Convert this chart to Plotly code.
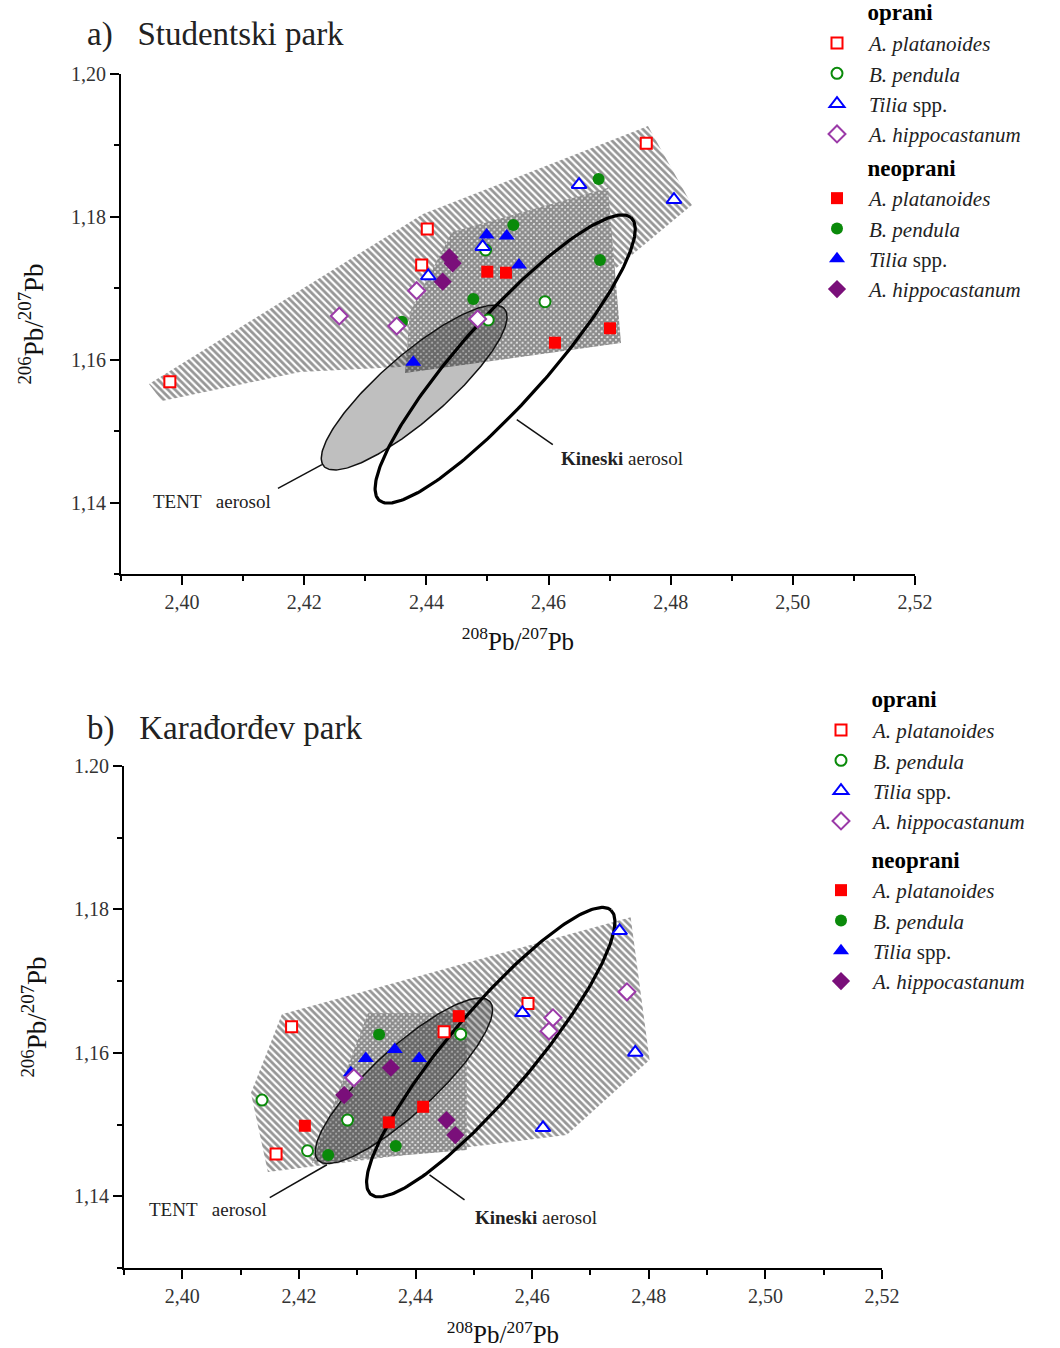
import numpy as np
import plotly.graph_objects as go

SERIF = "Liberation Serif, Times New Roman, serif"

# ---------------- a) Studentski park ----------------
# oprani (washed leaves)
stud_op_plat_x = [2.3980, 2.4760, 2.44015, 2.43923]
stud_op_plat_y = [1.1569, 1.1903, 1.17830, 1.17326]
stud_op_bet_x = [2.45942, 2.45013, 2.44970]
stud_op_bet_y = [1.16812, 1.16556, 1.17536]
stud_op_til_x = [2.4650, 2.48054, 2.44922, 2.44031]
stud_op_til_y = [1.1845, 1.1824, 1.17582, 1.17172]
stud_op_hip_x = [2.42574, 2.43514, 2.43841, 2.44840]
stud_op_hip_y = [1.16612, 1.16472, 1.16966, 1.16570]
# neoprani (unwashed leaves)
stud_ne_plat_x = [2.44997, 2.45303, 2.47006, 2.46105]
stud_ne_plat_y = [1.17232, 1.17218, 1.16440, 1.16238]
stud_ne_bet_x = [2.4682, 2.45423, 2.46842, 2.44768, 2.4360]
stud_ne_bet_y = [1.1853, 1.17886, 1.17396, 1.16850, 1.1653]
stud_ne_til_x = [2.44987, 2.45315, 2.45516, 2.43786]
stud_ne_til_y = [1.17746, 1.17732, 1.17326, 1.15964]
stud_ne_hip_x = [2.44375, 2.44430, 2.44267]
stud_ne_hip_y = [1.17434, 1.17350, 1.17092]
# envelopes around each group
stud_op_env_x = [2.39458, 2.43944, 2.47628, 2.48348, 2.46187, 2.43568, 2.41931, 2.39671]
stud_op_env_y = [1.15660, 1.18040, 1.19272, 1.18166, 1.16626, 1.15898, 1.15828, 1.15422]
stud_ne_env_x = [2.43650, 2.43731, 2.44419, 2.46973, 2.47186]
stud_ne_env_y = [1.15814, 1.16668, 1.17788, 1.18404, 1.16234]

# ---------------- b) Karađorđev park ----------------
kar_op_plat_x = [2.41874, 2.44489, 2.45929, 2.41608]
kar_op_plat_y = [1.16363, 1.16293, 1.16689, 1.14589]
kar_op_bet_x = [2.44775, 2.42834, 2.42148, 2.41367]
kar_op_bet_y = [1.16261, 1.15063, 1.14635, 1.15341]
kar_op_til_x = [2.47500, 2.47769, 2.45833, 2.46186]
kar_op_til_y = [1.17701, 1.16006, 1.16558, 1.14955]
kar_op_hip_x = [2.47626, 2.46357, 2.46289, 2.42942]
kar_op_hip_y = [1.16851, 1.16489, 1.16303, 1.15652]
kar_ne_plat_x = [2.44741, 2.42102, 2.43542, 2.44130]
kar_ne_plat_y = [1.16512, 1.14983, 1.15031, 1.15248]
kar_ne_bet_x = [2.43375, 2.42502, 2.43661]
kar_ne_bet_y = [1.16257, 1.14575, 1.14700]
kar_ne_til_x = [2.43147, 2.43644, 2.44061, 2.42890]
kar_ne_til_y = [1.15923, 1.16048, 1.15923, 1.15722]
kar_ne_hip_x = [2.43576, 2.42776, 2.44531, 2.44682]
kar_ne_hip_y = [1.15792, 1.15411, 1.15063, 1.14854]
kar_op_env_x = [2.41176, 2.41708, 2.47689, 2.48014, 2.46592, 2.41468]
kar_op_env_y = [1.15439, 1.16540, 1.17892, 1.15899, 1.14854, 1.14338]
kar_ne_env_x = [2.43182, 2.44878, 2.44878, 2.42222]
kar_ne_env_y = [1.16554, 1.16554, 1.14645, 1.14463]

# aerosol reference ellipses: centre, half major axis vector, half minor axis vector
tent_center = (2.4380, 1.1561)
tent_major = (0.0148, 0.0110)
tent_minor = (0.0035, -0.0035)
kin_center = (2.4529, 1.1601)
kin_major = (0.0206, 0.0198)
kin_minor = (0.0054, -0.0039)

# axis ticks
x_tickvals = [2.40, 2.42, 2.44, 2.46, 2.48, 2.50, 2.52]
x_ticktext = ["2,40", "2,42", "2,44", "2,46", "2,48", "2,50", "2,52"]
y_tickvals = [1.14, 1.16, 1.18, 1.20]
y_ticktext_a = ["1,14", "1,16", "1,18", "1,20"]
y_ticktext_b = ["1,14", "1,16", "1,18", "1.20"]

RED, GREEN, BLUE = "#ff0000", "#0a8a0a", "#0000ff"
PURPLE_OPEN, PURPLE = "#9b3aa8", "#7a0f7a"


def ellipse(center, major, minor, n=241):
    t = np.linspace(0, 2 * np.pi, n)
    x = center[0] + major[0] * np.cos(t) + minor[0] * np.sin(t)
    y = center[1] + major[1] * np.cos(t) + minor[1] * np.sin(t)
    return x, y


fig = go.Figure()


def add_panel(xa, ya, legend, op_env, ne_env, series):
    # oprani envelope: diagonal hatching
    fig.add_trace(go.Scatter(
        x=op_env[0] + op_env[0][:1], y=op_env[1] + op_env[1][:1],
        xaxis=xa, yaxis=ya, mode="lines", fill="toself",
        line=dict(width=0, color="rgba(0,0,0,0)"),
        fillcolor="rgba(0,0,0,0)",
        fillpattern=dict(shape="\\", size=5, solidity=0.55, fgcolor="#2e2e2e", bgcolor="white"),
        showlegend=False, hoverinfo="skip"))
    # neoprani envelope: fine checker
    fig.add_trace(go.Scatter(
        x=ne_env[0] + ne_env[0][:1], y=ne_env[1] + ne_env[1][:1],
        xaxis=xa, yaxis=ya, mode="lines", fill="toself",
        line=dict(width=0, color="rgba(0,0,0,0)"),
        fillcolor="rgba(0,0,0,0)",
        fillpattern=dict(shape="x", size=4, solidity=0.85, fgcolor="#1a1a1a", bgcolor="white"),
        showlegend=False, hoverinfo="skip"))
    # TENT aerosol
    ex, ey = ellipse(tent_center, tent_major, tent_minor)
    fig.add_trace(go.Scatter(
        x=ex, y=ey, xaxis=xa, yaxis=ya, mode="lines", fill="toself",
        fillcolor="rgba(0,0,0,0.25)", line=dict(color="#111", width=1.5),
        showlegend=False, hoverinfo="skip"))
    # Chinese aerosol
    kx, ky = ellipse(kin_center, kin_major, kin_minor)
    fig.add_trace(go.Scatter(
        x=kx, y=ky, xaxis=xa, yaxis=ya, mode="lines",
        line=dict(color="black", width=3.2),
        showlegend=False, hoverinfo="skip"))
    # sample points: neoprani drawn first so that open symbols sit on top
    for s in series:
        fig.add_trace(go.Scatter(
            x=s["x"], y=s["y"], xaxis=xa, yaxis=ya, mode="markers",
            name=s["name"], legend=legend, legendgroup=legend + s["group"],
            legendgrouptitle_text=s["gtitle"], legendrank=s["rank"],
            marker=dict(symbol=s["symbol"], size=s["size"], color=s["fill"],
                        line=dict(color=s["color"], width=s["lw"])),
            hoverinfo="x+y"))


def make_series(d):
    names = ["<i>A. platanoides</i>", "<i>B. pendula</i>", "<i>Tilia</i> spp.", "<i>A. hippocastanum</i>"]
    symbols = ["square", "circle", "triangle-up", "diamond"]
    sizes = [12, 12, 14, 14]
    colors_open = [RED, GREEN, BLUE, PURPLE_OPEN]
    colors_fill = [RED, GREEN, BLUE, PURPLE]
    pad = "&nbsp;" * 10
    out = []
    for i in range(4):
        x, y = d["ne"][i]
        out.append(dict(x=x, y=y, name=names[i], group="ne", gtitle=pad + "<b>neoprani</b>",
                        rank=10 + i, symbol=symbols[i], size=sizes[i], fill=colors_fill[i],
                        color=colors_fill[i], lw=0))
    for i in range(4):
        x, y = d["op"][i]
        out.append(dict(x=x, y=y, name=names[i], group="op", gtitle=pad + "<b>oprani</b>",
                        rank=1 + i, symbol=symbols[i], size=sizes[i] - 1, fill="white",
                        color=colors_open[i], lw=2))
    return out


stud = dict(
    op=[(stud_op_plat_x, stud_op_plat_y), (stud_op_bet_x, stud_op_bet_y),
        (stud_op_til_x, stud_op_til_y), (stud_op_hip_x, stud_op_hip_y)],
    ne=[(stud_ne_plat_x, stud_ne_plat_y), (stud_ne_bet_x, stud_ne_bet_y),
        (stud_ne_til_x, stud_ne_til_y), (stud_ne_hip_x, stud_ne_hip_y)])
kar = dict(
    op=[(kar_op_plat_x, kar_op_plat_y), (kar_op_bet_x, kar_op_bet_y),
        (kar_op_til_x, kar_op_til_y), (kar_op_hip_x, kar_op_hip_y)],
    ne=[(kar_ne_plat_x, kar_ne_plat_y), (kar_ne_bet_x, kar_ne_bet_y),
        (kar_ne_til_x, kar_ne_til_y), (kar_ne_hip_x, kar_ne_hip_y)])

add_panel("x", "y", "legend", (stud_op_env_x, stud_op_env_y), (stud_ne_env_x, stud_ne_env_y), make_series(stud))
add_panel("x2", "y2", "legend2", (kar_op_env_x, kar_op_env_y), (kar_ne_env_x, kar_ne_env_y), make_series(kar))

W, H = 1060, 1348


def xaxis(domain, anchor):
    return dict(domain=domain, anchor=anchor, range=[2.39, 2.52], showline=True, linecolor="black",
                linewidth=2, ticks="outside", ticklen=9, tickwidth=2, tickcolor="black",
                tickvals=x_tickvals, ticktext=x_ticktext, showgrid=False, zeroline=False,
                tickfont=dict(family=SERIF, size=20, color="#333"),
                minor=dict(ticks="outside", ticklen=5, tickwidth=1.5, tickcolor="black",
                           tickmode="linear", tick0=2.39, dtick=0.01),
                title=dict(text="<sup>208</sup>Pb/<sup>207</sup>Pb",
                           font=dict(family=SERIF, size=25, color="#111"), standoff=20))


def yaxis(domain, anchor, ticktext):
    return dict(domain=domain, anchor=anchor, range=[1.13, 1.20], showline=True, linecolor="black",
                linewidth=2, ticks="outside", ticklen=9, tickwidth=2, tickcolor="black",
                tickvals=y_tickvals, ticktext=ticktext, showgrid=False, zeroline=False,
                tickfont=dict(family=SERIF, size=20, color="#333"),
                minor=dict(ticks="outside", ticklen=5, tickwidth=1.5, tickcolor="black",
                           tickmode="linear", tick0=1.13, dtick=0.01),
                title=dict(text="<sup>206</sup>Pb/<sup>207</sup>Pb",
                           font=dict(family=SERIF, size=27, color="#111"), standoff=20))


# margins are fixed at zero, so legends placed on the paper never resize the plots
legend_common = dict(xanchor="left", yanchor="top", bgcolor="rgba(0,0,0,0)",
                     font=dict(family=SERIF, size=21, color="#222"),
                     grouptitlefont=dict(family=SERIF, size=23, color="black"),
                     traceorder="grouped", itemwidth=54)

label_font = dict(family=SERIF, size=19, color="#222")

fig.update_layout(
    width=W, height=H, margin=dict(l=0, r=0, t=0, b=0, autoexpand=False),
    paper_bgcolor="white", plot_bgcolor="rgba(0,0,0,0)",
    xaxis=xaxis([121 / W, 915 / W], "y"),
    yaxis=yaxis([1 - 574 / H, 1 - 74 / H], "x", y_ticktext_a),
    xaxis2=xaxis([124 / W, 882 / W], "y2"),
    yaxis2=yaxis([1 - 1268 / H, 1 - 766 / H], "x2", y_ticktext_b),
    legend=dict(x=805 / W, y=1 + 10 / H, tracegroupgap=1, **legend_common),
    legend2=dict(x=809 / W, y=1 - 677 / H, tracegroupgap=6, **legend_common),
    annotations=[
        dict(text="a)&nbsp;&nbsp;&nbsp;Studentski park", x=85 / W, y=1 - 35 / H, xref="paper", yref="paper",
             xanchor="left", yanchor="middle", showarrow=False,
             font=dict(family=SERIF, size=33, color="#222")),
        dict(text="b)&nbsp;&nbsp;&nbsp;Karađorđev park", x=85 / W, y=1 - 728 / H, xref="paper", yref="paper",
             xanchor="left", yanchor="middle", showarrow=False,
             font=dict(family=SERIF, size=33, color="#222")),
        dict(text="TENT&nbsp;&nbsp;&nbsp;aerosol", x=2.4049, y=1.1401, xref="x", yref="y",
             showarrow=False, font=label_font),
        dict(text="<b>Kineski</b> aerosol", x=2.4617, y=1.1461, xref="x", yref="y",
             xanchor="left", showarrow=False, font=label_font),
        dict(text="TENT&nbsp;&nbsp;&nbsp;aerosol", x=2.4044, y=1.1381, xref="x2", yref="y2",
             showarrow=False, font=label_font),
        dict(text="<b>Kineski</b> aerosol", x=2.4498, y=1.1371, xref="x2", yref="y2",
             xanchor="left", showarrow=False, font=label_font),
    ],
    shapes=[
        # leader lines from labels to the ellipses
        dict(type="line", xref="x", yref="y", x0=2.4157, y0=1.1420, x1=2.4229, y1=1.1453,
             line=dict(color="#111", width=1.5)),
        dict(type="line", xref="x", yref="y", x0=2.4548, y0=1.1516, x1=2.4607, y1=1.1481,
             line=dict(color="#111", width=1.5)),
        dict(type="line", xref="x2", yref="y2", x0=2.4150, y0=1.1398, x1=2.4248, y1=1.1444,
             line=dict(color="#111", width=1.5)),
        dict(type="line", xref="x2", yref="y2", x0=2.4424, y0=1.1430, x1=2.4484, y1=1.1395,
             line=dict(color="#111", width=1.5)),
    ],
)

fig.write_html("out.html")
